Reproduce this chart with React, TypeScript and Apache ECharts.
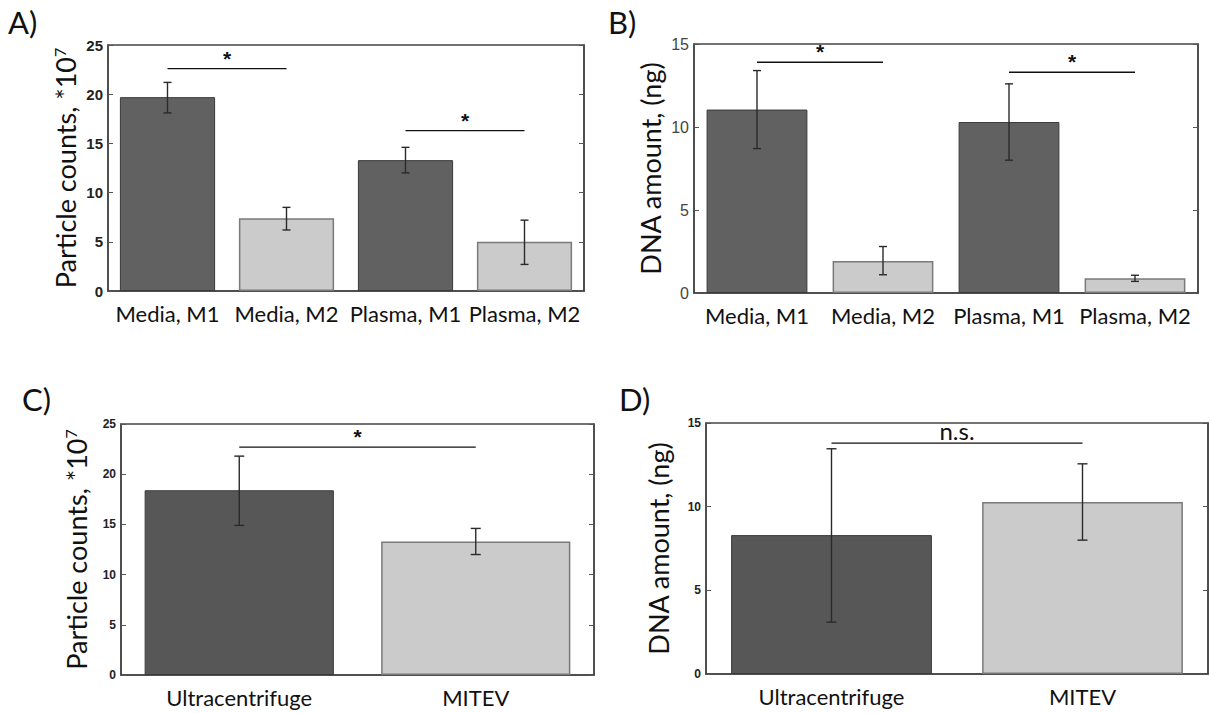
import React, { useEffect, useRef } from "react";
import * as echarts from "echarts";

// ---- data ----
const categoriesAB = ["Media, M1", "Media, M2", "Plasma, M1", "Plasma, M2"];
const particleMeans = [19.7, 7.4, 13.3, 5.0];
const particleLow = [18.1, 6.2, 12.0, 2.7];
const particleHigh = [21.2, 8.5, 14.6, 7.2];
const dnaMeans = [11.05, 1.93, 10.3, 0.89];
const dnaLow = [8.7, 1.1, 8.0, 0.7];
const dnaHigh = [13.4, 2.8, 12.6, 1.07];

const categoriesCD = ["Ultracentrifuge", "MITEV"];
const methodParticleMeans = [18.4, 13.3];
const methodParticleLow = [14.9, 12.0];
const methodParticleHigh = [21.8, 14.6];
const methodDnaMeans = [8.3, 10.28];
const methodDnaLow = [3.1, 8.0];
const methodDnaHigh = [13.46, 12.56];

// significance brackets: [fromIndex, toIndex, yValue]
const sigA = [[0, 1, 22.6], [2, 3, 16.3]];
const sigALabels = ["*", "*"];
const sigB = [[0, 1, 13.9], [2, 3, 13.3]];
const sigBLabels = ["*", "*"];
const sigC = [[0, 1, 22.7]];
const sigCLabels = ["*"];
const sigD = [[0, 1, 13.8]];
const sigDLabels = ["n.s."];

const ticksParticle = { min: 0, max: 25, interval: 5 };
const ticksDna = { min: 0, max: 15, interval: 5 };

const LABEL_FONT = 'Lato, "Open Sans", sans-serif';
const TICK_FONT = '"Liberation Sans", Arial, sans-serif';
const DARK = "#616161";
const LIGHT = "#cbcbcb";

export default function App() {
  const ref = useRef<HTMLDivElement>(null);

  useEffect(() => {
    if (!ref.current) return;
    const chart = echarts.init(ref.current, null, { renderer: "svg" });

    const grids = [
      { left: 108, top: 45, width: 476, height: 246 },
      { left: 694, top: 44, width: 504, height: 249 },
      { left: 121, top: 424, width: 473, height: 251 },
      { left: 706, top: 423, width: 502, height: 251 },
    ].map((g) => ({ ...g, show: true, borderColor: "#444", borderWidth: 1.5, backgroundColor: "transparent" }));

    const panels = [
      { cats: categoriesAB, means: particleMeans, low: particleLow, high: particleHigh, sig: sigA, sigLabels: sigALabels, ticks: ticksParticle, name: "particle", tickBold: true, tickSize: 15, cap: 8, gap: 28, dark: DARK },
      { cats: categoriesAB, means: dnaMeans, low: dnaLow, high: dnaHigh, sig: sigB, sigLabels: sigBLabels, ticks: ticksDna, name: "dna", tickBold: false, tickSize: 16, cap: 8, gap: 30, dark: DARK },
      { cats: categoriesCD, means: methodParticleMeans, low: methodParticleLow, high: methodParticleHigh, sig: sigC, sigLabels: sigCLabels, ticks: ticksParticle, name: "particle", tickBold: true, tickSize: 12, cap: 10, gap: 30, dark: "#575757" },
      { cats: categoriesCD, means: methodDnaMeans, low: methodDnaLow, high: methodDnaHigh, sig: sigD, sigLabels: sigDLabels, ticks: ticksDna, name: "dna", tickBold: true, tickSize: 12, cap: 10, gap: 34, dark: "#575757" },
    ];

    const xAxis: any[] = [];
    const yAxis: any[] = [];
    const series: any[] = [];

    panels.forEach((p, gi) => {
      xAxis.push({
        type: "category",
        gridIndex: gi,
        data: p.cats,
        axisLine: { show: true, lineStyle: { color: "#444", width: 1.5 } },
        axisTick: { show: false },
        axisLabel: { interval: 0, hideOverlap: false, fontFamily: LABEL_FONT, fontSize: 22, color: "#111", margin: 11 },
      });
      const yName =
        p.name === "particle" ? "Particle counts, *10{sup|7}" : "DNA amount, (ng)";
      yAxis.push({
        type: "value",
        gridIndex: gi,
        position: "left",
        ...p.ticks,
        name: yName,
        nameLocation: "middle",
        nameGap: p.gap,
        nameRotate: 90,
        nameTextStyle: {
          fontFamily: LABEL_FONT,
          fontSize: 27,
          color: "#111",
          rich: { sup: { fontFamily: LABEL_FONT, fontSize: 16, color: "#111", verticalAlign: "top", padding: [0, 0, 13, 0] } },
        },
        axisLine: { show: true, lineStyle: { color: "#444", width: 1.5 } },
        axisTick: { show: true, inside: true, length: 5, lineStyle: { color: "#555" } },
        splitLine: { show: false },
        axisLabel: {
          fontFamily: TICK_FONT,
          fontSize: p.tickSize,
          fontWeight: p.tickBold ? "bold" : "normal",
          color: p.tickBold ? "#222" : "#444",
          margin: 5,
        },
      });
      yAxis.push({
        type: "value",
        gridIndex: gi,
        position: "right",
        ...p.ticks,
        axisLine: { show: true, lineStyle: { color: "#444", width: 1.5 } },
        axisTick: { show: true, inside: true, length: 5, lineStyle: { color: "#555" } },
        splitLine: { show: false },
        axisLabel: { show: false },
      });

      const yIdx = gi * 2;
      series.push({
        type: "bar",
        xAxisIndex: gi,
        yAxisIndex: yIdx,
        barWidth: "80%",
        data: p.means.map((v, i) => ({
          value: v,
          itemStyle: i % 2 === 0
            ? { color: p.dark, borderColor: "#3a3a3a", borderWidth: 1 }
            : { color: LIGHT, borderColor: "#7a7a7a", borderWidth: 1.5 },
        })),
        z: 2,
      });
      const cap = p.cap;
      series.push({
        type: "custom",
        xAxisIndex: gi,
        yAxisIndex: yIdx,
        encode: { x: 0, y: [1, 2] },
        data: p.means.map((_, i) => [i, p.low[i], p.high[i]]),
        z: 3,
        renderItem: (params: any, api: any) => {
          const x = api.value(0);
          const lo = api.coord([x, api.value(1)]);
          const hi = api.coord([x, api.value(2)]);
          const st = { stroke: "#2a2a2a", lineWidth: 1.4 };
          return {
            type: "group",
            children: [
              { type: "line", shape: { x1: lo[0], y1: lo[1], x2: hi[0], y2: hi[1] }, style: st },
              { type: "line", shape: { x1: lo[0] - cap / 2, y1: lo[1], x2: lo[0] + cap / 2, y2: lo[1] }, style: st },
              { type: "line", shape: { x1: hi[0] - cap / 2, y1: hi[1], x2: hi[0] + cap / 2, y2: hi[1] }, style: st },
            ],
          };
        },
      });
      const labels = p.sigLabels;
      series.push({
        type: "custom",
        xAxisIndex: gi,
        yAxisIndex: yIdx,
        encode: { x: [0, 1], y: 2 },
        data: p.sig,
        z: 4,
        renderItem: (params: any, api: any) => {
          const a = api.coord([api.value(0), api.value(2)]);
          const b = api.coord([api.value(1), api.value(2)]);
          const txt = labels[params.dataIndex];
          const isStar = txt === "*";
          return {
            type: "group",
            children: [
              { type: "line", shape: { x1: a[0], y1: a[1], x2: b[0], y2: b[1] }, style: { stroke: "#111", lineWidth: 1.4 } },
              {
                type: "text",
                x: (a[0] + b[0]) / 2,
                y: a[1] - (isStar ? 0 : 1),
                style: {
                  text: txt,
                  fontFamily: isStar ? TICK_FONT : LABEL_FONT,
                  fontWeight: isStar ? "bold" : "normal",
                  fontSize: isStar ? 21 : 24,
                  fill: "#111",
                  align: "center",
                  verticalAlign: "bottom",
                },
              },
            ],
          };
        },
      });
    });

    const letterStyle = { fontFamily: LABEL_FONT, fontSize: 31, fill: "#111" };
    chart.setOption({
      animation: false,
      backgroundColor: "#ffffff",
      grid: grids,
      xAxis,
      yAxis,
      series,
      graphic: [
        { type: "text", left: 8, top: 6, style: { ...letterStyle, text: "A)" } },
        { type: "text", left: 608, top: 6, style: { ...letterStyle, text: "B)" } },
        { type: "text", left: 22, top: 383, style: { ...letterStyle, text: "C)" } },
        { type: "text", left: 619, top: 383, style: { ...letterStyle, text: "D)" } },
      ],
    });

    return () => chart.dispose();
  }, []);

  return (
    <div
      ref={ref}
      style={{ position: "fixed", left: 0, top: 0, width: 1210, height: 713, background: "#fff" }}
    />
  );
}
